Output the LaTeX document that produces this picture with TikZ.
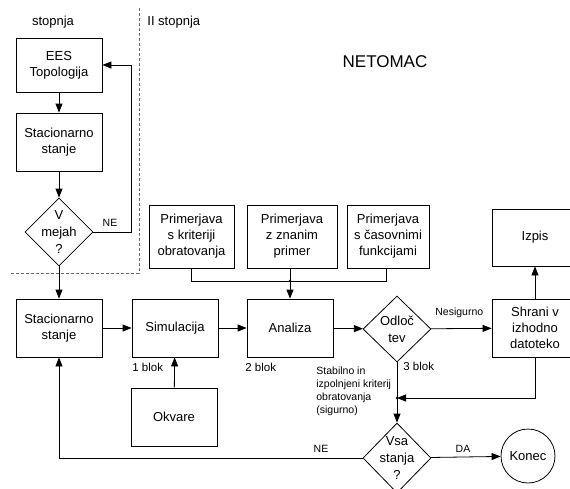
\documentclass[tikz,border=0pt]{standalone}
\usepackage{fontspec}
\setmainfont{Liberation Sans}
\usetikzlibrary{arrows.meta}
\usetikzlibrary{shapes.geometric}

\begin{document}
\begin{tikzpicture}[
    x=1pt, y=-1pt,
    >={Triangle[length=9pt,width=7pt]},
    line width=0.8pt,
    box/.style={
        rectangle,
        draw,
        minimum width=86pt,
        minimum height=58pt,
        align=center,
        inner sep=0pt,
        font=\fontsize{13}{16}\selectfont
    },
    decision/.style={
        diamond,
        draw,
        minimum width=68pt,
        minimum height=68pt,
        inner sep=0pt
    },
    dectext/.style={
        align=center,
        inner sep=0pt,
        font=\fontsize{13}{17}\selectfont
    },
    edge/.style={
        ->
    },
    lbl/.style={
        inner sep=0pt,
        font=\fontsize{10.5}{13}\selectfont
    },
    stage/.style={
        draw=black!60,
        dash pattern=on 3pt off 2pt
    }
]
\useasboundingbox (0,0) rectangle (570,488);
\clip (0,0) rectangle (570,488);

% Stages
\draw[stage] (139,8) -- (139,273) -- (10,273);
\node[inner sep=0pt, font=\fontsize{13}{16}\selectfont] (st1) at (53,22) {stopnja};
\node[inner sep=0pt, anchor=west, font=\fontsize{13}{16}\selectfont] (st2) at (147,22) {II stopnja};
\node[inner sep=0pt, font=\fontsize{17}{20}\selectfont] (neto) at (385,62) {NETOMAC};

% First stage
\node[box, minimum height=54pt] (ees) at (59,65) {EES\\Topologija};
\node[box] (stac1) at (59,142) {Stacionarno\\stanje};
\node[decision] (mejah) at (59,232) {};
\node[dectext] at (mejah) {V\\mejah\\?};

% Second stage
\node[box] (stac2) at (59,328) {Stacionarno\\stanje};
\node[box] (sim) at (175,328) {Simulacija};
\node[box] (anal) at (290,328) {Analiza};
\node[decision, minimum height=66pt] (odl) at (397,329) {};
\node[dectext] at (odl) {Odloč\\tev};
\node[box] (shrani) at (535,328) {Shrani v\\izhodno\\datoteko};
\node[box, minimum height=57pt] (izpis) at (535,237.5) {Izpis};
\node[box] (okvare) at (174,417) {Okvare};

% Comparisons
\node[box, minimum width=85pt, minimum height=63pt] (p1) at (191.5,236.5) {Primerjava\\s kriteriji\\obratovanja};
\node[box, minimum width=90pt, minimum height=63pt] (p2) at (292,236.5) {Primerjava\\z znanim\\primer};
\node[box, minimum width=82pt, minimum height=63pt] (p3) at (388,236.5) {Primerjava\\s časovnimi\\funkcijami};

% End
\node[decision, minimum height=70pt] (vsa) at (397,458) {};
\node[dectext] at (vsa) {Vsa\\stanja\\?};
\node[circle, draw, minimum size=54pt, inner sep=0pt, font=\fontsize{13}{16}\selectfont] (konec) at (528,456) {Konec};

% Junctions
\coordinate (j1) at (290,281);
\coordinate (j2) at (397,398);
\fill (j1) circle (1.3pt);
\fill (j2) circle (1.3pt);

% Edges
\draw[edge] (ees) -- (stac1);
\draw[edge] (stac1) -- (mejah);
\draw[edge] (mejah.east) -- (131,232) -- (131,65) -- (ees.east);
\draw[edge] (mejah) -- (stac2);

\draw[edge] (stac2) -- (sim);
\draw[edge] (sim) -- (anal);
\draw[edge] (anal) -- (odl);
\draw[edge] (odl) -- (shrani);
\draw[edge] (shrani) -- (izpis);
\draw[edge] (okvare) -- (sim);

\draw (p1.south) -- (191.5,281) -- (386,281) -- (386,268);
\draw (p2.south -| j1) -- (j1);
\draw[edge] (j1) -- (anal);

\draw (odl.south) -- (j2);
\draw[edge] (shrani.south) -- (535,398) -- (j2);
\draw[edge] (j2) -- (vsa.north);
\draw[edge] (vsa) -- (konec);
\draw[edge] (vsa.west) -- (59,458) -- (stac2.south);

% Labels
\node[lbl] (ne1) at (110,223) {NE};
\node[lbl, font=\fontsize{11.5}{14}\selectfont, anchor=west] (b1) at (132,367) {1 blok};
\node[lbl, font=\fontsize{11.5}{14}\selectfont, anchor=west] (b2) at (245,367) {2 blok};
\node[lbl, font=\fontsize{11.5}{14}\selectfont, anchor=west] (b3) at (403,366) {3 blok};
\node[lbl, anchor=west] (nes) at (435,313) {Nesigurno};
\node[lbl, anchor=north west, align=left] (stab) at (316,366) {Stabilno in\\izpolnjeni kriterij\\obratovanja\\(sigurno)};
\node[lbl] (ne2) at (321,449) {NE};
\node[lbl] (da) at (463,449) {DA};

\end{tikzpicture}
\end{document}
